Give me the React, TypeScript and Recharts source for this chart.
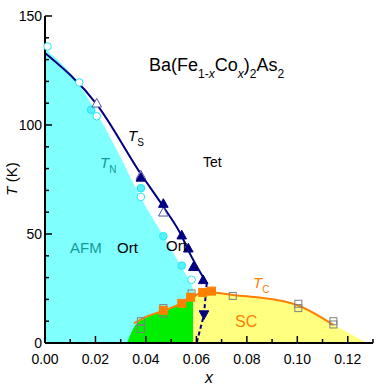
import React from 'react'
import { ComposedChart, Area, Line, Scatter, XAxis, YAxis } from 'recharts'

// phase regions (x = Co content, t = temperature in K)
const afmRegion = [
  { x: 0, t: 135 },
  { x: 0.0136, t: 118.5 },
  { x: 0.0205, t: 105.5 },
  { x: 0.03, t: 85 },
  { x: 0.038, t: 66.5 },
  { x: 0.047, t: 49 },
  { x: 0.0542, t: 34.5 },
  { x: 0.0581, t: 26.5 },
  { x: 0.0595, t: 22 },
]
const coexRegion = [
  { x: 0.0325, t: 0 },
  { x: 0.036, t: 8.5 },
  { x: 0.04, t: 11.5 },
  { x: 0.047, t: 15 },
  { x: 0.054, t: 18.5 },
  { x: 0.0587, t: 21.4 },
]
const scRegion = [
  { x: 0.0587, t: 21.4 },
  { x: 0.0625, t: 23 },
  { x: 0.067, t: 23 },
  { x: 0.0744, t: 22 },
  { x: 0.0839, t: 21 },
  { x: 0.1004, t: 17.2 },
  { x: 0.1143, t: 8.5 },
  { x: 0.1275, t: 0 },
]

// transition lines
const tsLine = [
  { x: 0, t: 133 },
  { x: 0.0205, t: 109.5 },
  { x: 0.038, t: 77.5 },
  { x: 0.0469, t: 62.5 },
  { x: 0.0542, t: 49 },
  { x: 0.0567, t: 42.7 },
  { x: 0.0641, t: 27.4 },
]
const tsDashed = [
  { x: 0.0641, t: 27.4 },
  { x: 0.063, t: 13 },
  { x: 0.0601, t: 0 },
]
const tcLine = [
  { x: 0.0352, t: 9 },
  { x: 0.04, t: 12 },
  { x: 0.047, t: 14.8 },
  { x: 0.054, t: 18.2 },
  { x: 0.0587, t: 21.3 },
  { x: 0.0625, t: 23 },
  { x: 0.067, t: 23 },
  { x: 0.0744, t: 22 },
  { x: 0.0839, t: 21 },
  { x: 0.1004, t: 17.2 },
  { x: 0.1143, t: 8.3 },
]

// measured points
const tsOpen = [
  { x: 0.0205, t: 110 },
  { x: 0.038, t: 77 },
  { x: 0.0469, t: 60 },
]
const tsFilled = [
  { x: 0.038, t: 76 },
  { x: 0.0469, t: 64 },
  { x: 0.0542, t: 49.5 },
  { x: 0.0568, t: 43.5 },
  { x: 0.0588, t: 35 },
  { x: 0.0627, t: 29 },
]
const tsDown = [{ x: 0.063, t: 13 }]
const tnOpen = [
  { x: 0.001, t: 136 },
  { x: 0.0136, t: 119.5 },
  { x: 0.0205, t: 104 },
  { x: 0.038, t: 67 },
  { x: 0.0581, t: 29 },
]
const tnFilled = [
  { x: 0.0183, t: 107 },
  { x: 0.038, t: 71 },
  { x: 0.0469, t: 49 },
  { x: 0.0542, t: 35.5 },
]
const tcFilled = [
  { x: 0.0469, t: 15 },
  { x: 0.0542, t: 18.2 },
  { x: 0.0577, t: 21 },
  { x: 0.0625, t: 23.2 },
  { x: 0.066, t: 23.8 },
]
const tcOpen = [
  { x: 0.038, t: 10 },
  { x: 0.038, t: 6.5 },
  { x: 0.0469, t: 16 },
  { x: 0.0469, t: 13.5 },
  { x: 0.0581, t: 22.7 },
  { x: 0.0744, t: 21.6 },
  { x: 0.1004, t: 18 },
  { x: 0.1004, t: 16 },
  { x: 0.1143, t: 10 },
  { x: 0.1143, t: 8.5 },
]

const xTicks = [0, 0.01, 0.02, 0.03, 0.04, 0.05, 0.06, 0.07, 0.08, 0.09, 0.1, 0.11, 0.12, 0.13]
const yTicks = [0, 10, 20, 30, 40, 50, 60, 70, 80, 90, 100, 110, 120, 130, 140, 150]

const FONT = '"Liberation Sans", Arial, Helvetica, sans-serif'
const NAVY = '#000080'
const ORANGE = '#ff8000'
const TEAL = '#119a9a'

const isMajorX = (v: number) => Math.round(v * 100) % 2 === 0
const isMajorY = (v: number) => v % 50 === 0

const bottomTick = (p: any) => {
  const v = p.payload.value
  const major = isMajorX(v)
  return (
    <g>
      <line x1={p.x} x2={p.x} y1={p.y} y2={p.y - (major ? 7 : 4)} stroke="#000" strokeWidth={1.5} />
      {major && (
        <text x={p.x} y={p.y + 21} textAnchor="middle" fontSize={14} fontFamily={FONT} fill="#000">
          {v.toFixed(2)}
        </text>
      )}
    </g>
  )
}
const topTick = (p: any) => {
  const major = isMajorX(p.payload.value)
  return <line x1={p.x} x2={p.x} y1={p.y} y2={p.y + (major ? 7 : 4)} stroke="#000" strokeWidth={1.5} />
}
const leftTick = (p: any) => {
  const v = p.payload.value
  const major = isMajorY(v)
  return (
    <g>
      <line x1={p.x} x2={p.x + (major ? 7 : 4)} y1={p.y} y2={p.y} stroke="#000" strokeWidth={1.5} />
      {major && (
        <text x={p.x - 3} y={p.y + 5} textAnchor="end" fontSize={14} fontFamily={FONT} fill="#000">
          {v}
        </text>
      )}
    </g>
  )
}
const rightTick = (p: any) => {
  const major = isMajorY(p.payload.value)
  return <line x1={p.x} x2={p.x - (major ? 7 : 4)} y1={p.y} y2={p.y} stroke="#000" strokeWidth={1.5} />
}

const triangle = (fill: string, stroke: string, down = false) => (p: any) => {
  const { cx, cy } = p
  const s = 4.8
  const d = down ? -1 : 1
  return (
    <polygon
      points={`${cx},${cy - d * s} ${cx - s},${cy + d * s * 0.8} ${cx + s},${cy + d * s * 0.8}`}
      fill={fill}
      stroke={stroke}
      strokeWidth={1}
    />
  )
}
const circle = (fill: string, stroke: string) => (p: any) => (
  <circle cx={p.cx} cy={p.cy} r={3.8} fill={fill} stroke={stroke} strokeWidth={1} />
)
const square = (fill: string, stroke: string, s: number) => (p: any) => (
  <rect x={p.cx - s / 2} y={p.cy - s / 2} width={s} height={s} fill={fill} stroke={stroke} strokeWidth={1} />
)

export default function App() {
  return (
    <div style={{ position: 'absolute', left: 0, top: 0, width: 381, height: 389, background: '#fff' }}>
      <ComposedChart width={381} height={389} margin={{ top: 16, right: 8, bottom: 0, left: 0 }}>
        <XAxis
          xAxisId="b"
          dataKey="x"
          type="number"
          domain={[0, 0.13]}
          ticks={xTicks}
          interval={0}
          height={46}
          tickSize={0}
          tickMargin={0}
          tick={bottomTick}
          tickLine={false}
          axisLine={{ stroke: '#000', strokeWidth: 2 }}
        />
        <XAxis
          xAxisId="top"
          orientation="top"
          type="number"
          domain={[0, 0.13]}
          ticks={xTicks}
          interval={0}
          height={0}
          tickSize={0}
          tickMargin={0}
          tick={topTick}
          tickLine={false}
          axisLine={{ stroke: '#000', strokeWidth: 2 }}
        />
        <YAxis
          yAxisId="l"
          dataKey="t"
          type="number"
          domain={[0, 150]}
          ticks={yTicks}
          interval={0}
          width={45}
          tickSize={0}
          tickMargin={0}
          tick={leftTick}
          tickLine={false}
          axisLine={{ stroke: '#000', strokeWidth: 2 }}
        />
        <YAxis
          yAxisId="right"
          orientation="right"
          type="number"
          domain={[0, 150]}
          ticks={yTicks}
          interval={0}
          width={0}
          tickSize={0}
          tickMargin={0}
          tick={rightTick}
          tickLine={false}
          axisLine={{ stroke: '#000', strokeWidth: 2 }}
        />

        <Area xAxisId="b" yAxisId="l" data={afmRegion} dataKey="t" type="monotone" fill="#80ffff" fillOpacity={1} stroke="none" isAnimationActive={false} />
        <Area xAxisId="b" yAxisId="l" data={coexRegion} dataKey="t" type="monotone" fill="#00ee00" fillOpacity={1} stroke="none" isAnimationActive={false} />
        <Area xAxisId="b" yAxisId="l" data={scRegion} dataKey="t" type="monotone" fill="#ffff80" fillOpacity={1} stroke="none" isAnimationActive={false} />

        <Line xAxisId="b" yAxisId="l" data={tcLine} dataKey="t" type="monotone" stroke={ORANGE} strokeWidth={2} dot={false} isAnimationActive={false} />
        <Line xAxisId="b" yAxisId="l" data={tsLine} dataKey="t" type="monotone" stroke={NAVY} strokeWidth={2} dot={false} isAnimationActive={false} />
        <Line xAxisId="b" yAxisId="l" data={tsDashed} dataKey="t" type="linear" stroke={NAVY} strokeWidth={2} strokeDasharray="4 3" dot={false} isAnimationActive={false} />

        <Scatter xAxisId="b" yAxisId="l" data={tcOpen} dataKey="t" shape={square('none', '#808080', 7)} isAnimationActive={false} />
        <Scatter xAxisId="b" yAxisId="l" data={tcFilled} dataKey="t" shape={square(ORANGE, ORANGE, 8)} isAnimationActive={false} />
        <Scatter xAxisId="b" yAxisId="l" data={tnOpen} dataKey="t" shape={circle('#ffffff', '#22e6f6')} isAnimationActive={false} />
        <Scatter xAxisId="b" yAxisId="l" data={tnFilled} dataKey="t" shape={circle('#55f2fa', '#22e6f6')} isAnimationActive={false} />
        <Scatter xAxisId="b" yAxisId="l" data={tsOpen} dataKey="t" shape={triangle('#ffffff', '#5555aa')} isAnimationActive={false} />
        <Scatter xAxisId="b" yAxisId="l" data={tsFilled} dataKey="t" shape={triangle(NAVY, NAVY)} isAnimationActive={false} />
        <Scatter xAxisId="b" yAxisId="l" data={tsDown} dataKey="t" shape={triangle(NAVY, NAVY, true)} isAnimationActive={false} />
      </ComposedChart>

      <svg
        width={381}
        height={389}
        style={{ position: 'absolute', left: 0, top: 0, pointerEvents: 'none' }}
        fontFamily={FONT}
      >
        <text x={149} y={71} fontSize={18} fill="#000">
          Ba(Fe
          <tspan fontSize={12} dy={7}>1-</tspan>
          <tspan fontSize={12} fontStyle="italic">x</tspan>
          <tspan dy={-7}>Co</tspan>
          <tspan fontSize={12} fontStyle="italic" dy={7}>x</tspan>
          <tspan dy={-7}>)</tspan>
          <tspan fontSize={12} dy={7}>2</tspan>
          <tspan dy={-7}>As</tspan>
          <tspan fontSize={12} dy={7}>2</tspan>
        </text>

        <text x={128} y={141} fontSize={15} fill="#000">
          <tspan fontStyle="italic">T</tspan>
          <tspan fontSize={10} dy={5}>S</tspan>
        </text>
        <text x={100} y={168} fontSize={15} fill={TEAL}>
          <tspan fontStyle="italic">T</tspan>
          <tspan fontSize={10} dy={5}>N</tspan>
        </text>
        <text x={203} y={167} fontSize={14} fill="#000">Tet</text>
        <text x={70} y={253} fontSize={15} fill={TEAL}>AFM</text>
        <text x={117} y={253} fontSize={15} fill="#000">Ort</text>
        <text x={166} y={251} fontSize={15} fill="#000">Ort</text>
        <text x={253} y={288} fontSize={15} fill={ORANGE}>
          <tspan fontStyle="italic">T</tspan>
          <tspan fontSize={10} dy={5}>C</tspan>
        </text>
        <text x={235} y={327} fontSize={16} fill={ORANGE}>SC</text>

        <text x={13} y={179} fontSize={15} fill="#000" textAnchor="middle" dominantBaseline="middle" transform="rotate(-90 13 179)">
          <tspan fontStyle="italic">T</tspan> (K)
        </text>
        <text x={209} y={383} fontSize={16} fontStyle="italic" textAnchor="middle" fill="#000">x</text>
      </svg>
    </div>
  )
}
